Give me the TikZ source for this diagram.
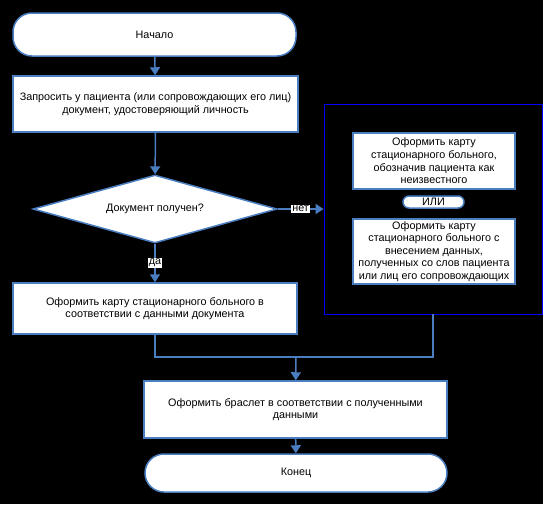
\documentclass[tikz,border=0pt]{standalone}
\usepackage{fontspec}
\setmainfont{Liberation Sans}
\usetikzlibrary{arrows.meta,shapes.geometric}
\definecolor{lineblue}{RGB}{74,126,193}
\definecolor{frameblue}{RGB}{0,0,255}

\begin{document}
\begin{tikzpicture}[x=1pt, y=-1pt,
  font=\fontsize{10.8}{12.6}\selectfont,
  box/.style={draw=lineblue, line width=1.5pt, fill=white, inner sep=0pt, align=center},
  term/.style={box, rounded corners=19pt},
  decision/.style={draw=lineblue, line width=1.5pt, fill=white, diamond, aspect=3.6, inner sep=0pt},
  arr/.style={draw=lineblue, line width=1.5pt, -{Triangle[width=10pt,length=8pt]}},
  lbl/.style={fill=white, inner sep=1pt}]
\fill[black] (0,0) rectangle (543,504);
\useasboundingbox (0,0) rectangle (543,504);
% main column
\node[term, minimum width=283, minimum height=43] (start) at (154.5,34.5) {Начало};
\node[box, minimum width=285, minimum height=56] (ask) at (155.5,104)
  {Запросить у пациента (или сопровождающих его лиц)\\документ, удостоверяющий личность};
\node[decision, minimum width=244, minimum height=68] (dec) at (155,209) {Документ получен?};
\node[box, minimum width=284, minimum height=51] (known) at (155,308.5)
  {Оформить карту стационарного больного в\\соответствии с данными документа};
% alternative block
\node[draw=frameblue, line width=0.9pt, minimum width=218, minimum height=210] (alt) at (433,209) {};
\node[box, minimum width=162, minimum height=56] (unk) at (434,161)
  {Оформить карту\\стационарного больного,\\обозначив пациента как\\неизвестного};
\node[term, rounded corners=6pt, minimum width=61, minimum height=12] (or) at (433.5,202) {ИЛИ};
\node[box, minimum width=162, minimum height=65] (words) at (434,251.5)
  {Оформить карту\\стационарного больного с\\внесением данных,\\полученных со слов пациента\\или лиц его сопровождающих};
% bottom
\coordinate (join) at (296,357);
\node[box, minimum width=303, minimum height=57] (band) at (295.5,409.5)
  {Оформить браслет в соответствии с полученными\\данными};
\node[term, minimum width=302, minimum height=38] (end) at (296,473) {Конец};
% connectors
\draw[arr] (start) -- (ask);
\draw[arr] (ask) -- (dec);
\draw[arr] (dec) -- node[lbl, pos=.5]{да} (known);
\draw[arr] (dec) -- node[lbl, pos=.5]{нет} (alt);
\draw[draw=lineblue, line width=1.5pt] (known.south) |- (join);
\draw[draw=lineblue, line width=1.5pt] (alt.south) |- (join);
\draw[arr] (join) -- (band);
\draw[arr] (band) -- (end);
\end{tikzpicture}
\end{document}
